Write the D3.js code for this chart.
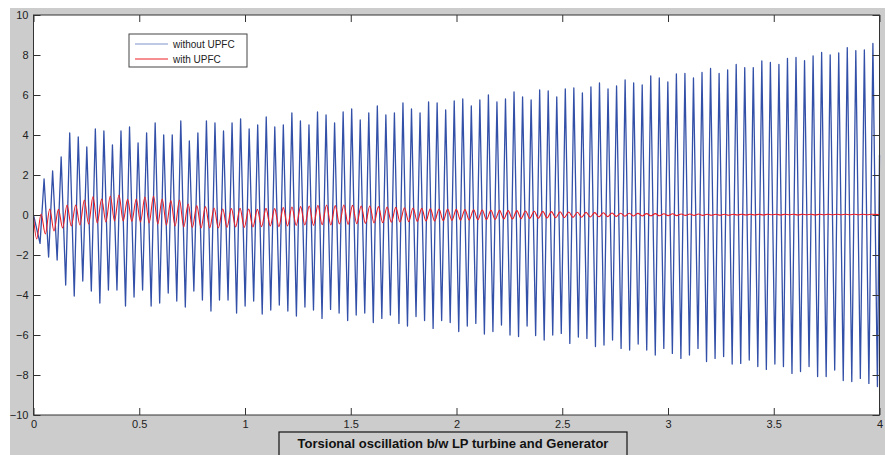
<!DOCTYPE html>
<html>
<head>
<meta charset="utf-8">
<script src="https://cdn.jsdelivr.net/npm/d3@7"></script>
<style>
  body { margin: 0; background: #fff; }
  text { font-family: "Liberation Sans", Arial, sans-serif; }
</style>
</head>
<body>
<div id="chart"></div>
<script>
// ---- data ----
var xTicks = [0, 0.5, 1, 1.5, 2, 2.5, 3, 3.5, 4];
var yTicks = [-10, -8, -6, -4, -2, 0, 2, 4, 6, 8, 10];
var seriesNames = ["without UPFC", "with UPFC"];

// blue (without UPFC): negative and positive peak of every cycle
var blueStart = 0.0;          // value at t = 0
var blueLowT0 = 0.031, blueHighT0 = 0.050, bluePeriod = 0.0404;
var blueLows = [-1.42, -2.1, -2.25, -3.5, -4.05, -3.3, -3.8, -4.4, -3.75, -3.75,
  -4.55, -4.1, -3.75, -4.55, -4.4, -3.9, -4.3, -4.6, -3.8, -4.25,
  -4.8, -4.25, -4.25, -4.9, -4.55, -4.3, -4.95, -4.75, -4.5, -4.8, -5.05,
  -4.6, -4.75, -5.17, -4.72, -4.9, -5.28, -5.0, -4.9, -5.38, -5.17,
  -5.0, -5.42, -5.55, -5.08, -5.28, -5.67, -5.28, -5.38, -5.83, -5.55,
  -5.42, -5.95, -5.83, -5.5, -6.0, -6.08, -5.55, -6.03, -6.25, -6.0,
  -5.92, -6.42, -6.1,
  -6.17, -6.58, -6.5, -6.25, -6.67, -6.75, -6.45, -6.75, -7.0, -6.67,
  -6.92, -7.17, -7.0, -6.67, -7.33, -7.17, -7.08, -7.45, -7.42, -7.25,
  -7.58, -7.72, -7.45, -7.58, -7.92, -7.83, -7.58, -8.08, -8.08, -7.75,
  -8.28, -8.33, -8.17, -8.42, -8.58];
var blueHighs = [1.8, 2.2, 2.9, 4.1, 3.9, 3.4, 4.3, 4.2, 3.5, 4.2,
  4.4, 3.6, 4.1, 4.6, 4.0, 4.0, 4.7, 3.7, 4.1, 4.7,
  4.6, 4.2, 4.6, 4.8, 4.3, 4.5, 4.9, 4.4, 4.5, 5.1, 4.7,
  4.5, 5.15, 5.0, 4.6, 5.15, 5.3, 4.75, 5.1, 5.45, 5.0,
  5.1, 5.6, 5.3, 5.1, 5.65, 5.6, 5.25, 5.7, 5.8, 5.45,
  5.75, 6.0, 5.65, 5.8, 6.15, 5.9, 5.75, 6.25, 6.2, 5.9, 6.3, 6.35,
  6.1, 6.4, 6.6, 6.3, 6.45, 6.75, 6.6, 6.5, 6.95, 6.85,
  6.65, 7.05, 7.08, 6.85, 7.13, 7.33, 7.08, 7.25, 7.53, 7.37,
  7.37, 7.7, 7.63, 7.53, 7.83, 7.88, 7.72, 7.95, 8.13, 8.0,
  8.1, 8.37, 8.22, 8.25, 8.58];
var blueEnd = 3.0;            // value at t = 4

// red (with UPFC)
var redStart = -0.1;
var redLowT0 = 0.015, redHighT0 = 0.036, redPeriod = 0.0409;
var redLows = [-1.2, -0.95, -0.8, -0.65, -0.55, -0.5, -0.45, -0.4, -0.35, -0.3,
  -0.3, -0.32, -0.35, -0.4, -0.45, -0.5, -0.55, -0.6, -0.62, -0.65,
  -0.65, -0.65, -0.62, -0.6, -0.62, -0.6, -0.58, -0.55, -0.58, -0.55,
  -0.52, -0.5, -0.52, -0.48, -0.5, -0.45, -0.47, -0.43, -0.42, -0.4,
  -0.38, -0.36, -0.35, -0.33, -0.32, -0.3, -0.3, -0.28, -0.27, -0.26,
  -0.25, -0.24, -0.23, -0.22, -0.2, -0.2, -0.18, -0.17, -0.16, -0.15,
  -0.14, -0.13, -0.12, -0.11, -0.1, -0.09, -0.08, -0.07, -0.06, -0.05,
  -0.05, -0.04, -0.04, -0.03, -0.03, -0.02, -0.02, -0.02, -0.01, -0.01,
  -0.01, 0, 0, 0, 0, 0.01, 0, 0.01, 0, 0.01,
  0, 0.01, 0.01, 0.01, 0.01, 0.01, 0.01];
var redHighs = [0.05, 0.3, 0.28, 0.5, 0.5, 0.75, 0.92, 0.8, 0.95, 1.0,
  0.78, 0.8, 0.9, 0.95, 0.8, 0.72, 0.75, 0.55, 0.47, 0.42,
  0.35, 0.3, 0.32, 0.33, 0.3, 0.28, 0.33, 0.32, 0.37, 0.4,
  0.42, 0.45, 0.48, 0.5, 0.47, 0.5, 0.48, 0.45, 0.45, 0.42,
  0.4, 0.38, 0.36, 0.35, 0.33, 0.32, 0.3, 0.3, 0.28, 0.27,
  0.26, 0.25, 0.24, 0.23, 0.22, 0.22, 0.2, 0.19, 0.18, 0.17,
  0.16, 0.15, 0.14, 0.13, 0.12, 0.11, 0.1, 0.09, 0.09, 0.08,
  0.07, 0.07, 0.06, 0.06, 0.05, 0.05, 0.05, 0.04, 0.04, 0.04,
  0.04, 0.04, 0.04, 0.04, 0.04, 0.04, 0.04, 0.04, 0.04, 0.04,
  0.04, 0.04, 0.04, 0.04, 0.04, 0.04, 0.04];
var redEnd = 0.02;

var title = "Torsional oscillation b/w LP turbine and Generator";

// put peaks in time order
function peaksToPoints(start, lows, lowT0, highs, highT0, period, end) {
  var pts = [{t: 0, v: start}];
  for (var i = 0; i < lows.length; i++) {
    pts.push({t: lowT0 + i * period, v: lows[i]});
    if (i < highs.length) pts.push({t: highT0 + i * period, v: highs[i]});
  }
  pts.push({t: 4, v: end});
  return pts;
}
var bluePts = peaksToPoints(blueStart, blueLows, blueLowT0, blueHighs, blueHighT0, bluePeriod, blueEnd);
var redPts = peaksToPoints(redStart, redLows, redLowT0, redHighs, redHighT0, redPeriod, redEnd);

// ---- drawing ----
var W = 885, H = 455;
var plotL = 33.5, plotR = 879.5, plotT = 15, plotB = 415;

var svg = d3.select("#chart").append("svg")
  .attr("width", W)
  .attr("height", H);

svg.append("rect")
  .attr("x", 10).attr("y", 8)
  .attr("width", W - 10).attr("height", H - 8)
  .attr("fill", "#cccccc");

var x = d3.scaleLinear().domain([0, 4]).range([plotL, plotR]);
var y = d3.scaleLinear().domain([-10, 10]).range([plotB, plotT]);

svg.append("rect")
  .attr("x", plotL).attr("y", plotT)
  .attr("width", plotR - plotL).attr("height", plotB - plotT)
  .attr("fill", "#ffffff");

var line = d3.line().x(function(d) { return x(d.t); }).y(function(d) { return y(d.v); });

var plot = svg.append("g");
plot.append("path")
  .datum(bluePts)
  .attr("d", line)
  .attr("fill", "none")
  .attr("stroke", "#3350a8")
  .attr("stroke-width", 1.3)
  .attr("stroke-linejoin", "round");

plot.append("path")
  .datum(redPts)
  .attr("d", d3.line().curve(d3.curveMonotoneX).x(function(d) { return x(d.t); }).y(function(d) { return y(d.v); }))
  .attr("fill", "none")
  .attr("stroke", "#ec1c24")
  .attr("stroke-width", 1.1);

// axes, MATLAB style ticks pointing inward
function styleAxis(g) {
  g.select(".domain").remove();
  g.selectAll("line").attr("stroke", "#333");
  g.selectAll("text").attr("font-size", 11).attr("fill", "#222")
    .style("font-family", "'Liberation Sans', Arial, sans-serif");
}

svg.append("g")
  .attr("transform", "translate(0," + plotB + ")")
  .call(d3.axisBottom(x).tickValues(xTicks).tickFormat(d3.format("")).tickSizeInner(-7).tickSizeOuter(0).tickPadding(5))
  .call(styleAxis);

svg.append("g")
  .attr("transform", "translate(0," + plotT + ")")
  .call(d3.axisTop(x).tickValues(xTicks).tickFormat("").tickSizeInner(-7).tickSizeOuter(0))
  .call(styleAxis);

svg.append("g")
  .attr("transform", "translate(" + plotL + ",0)")
  .call(d3.axisLeft(y).tickValues(yTicks).tickFormat(d3.format("")).tickSizeInner(-7).tickSizeOuter(0).tickPadding(5))
  .call(styleAxis);

svg.append("g")
  .attr("transform", "translate(" + plotR + ",0)")
  .call(d3.axisRight(y).tickValues(yTicks).tickFormat("").tickSizeInner(-7).tickSizeOuter(0))
  .call(styleAxis);

svg.append("rect")
  .attr("x", plotL).attr("y", plotT)
  .attr("width", plotR - plotL).attr("height", plotB - plotT)
  .attr("fill", "none")
  .attr("stroke", "#333")
  .attr("stroke-width", 1);

// legend
var legend = svg.append("g").attr("transform", "translate(129,34)");
legend.append("rect")
  .attr("width", 118).attr("height", 33)
  .attr("fill", "#fff").attr("stroke", "#444").attr("stroke-width", 1);
var colors = ["#7f93cc", "#ec1c24"];
seriesNames.forEach(function(name, i) {
  legend.append("line")
    .attr("x1", 6).attr("x2", 39)
    .attr("y1", 10 + i * 15).attr("y2", 10 + i * 15)
    .attr("stroke", colors[i]).attr("stroke-width", 1);
  legend.append("text")
    .attr("x", 44).attr("y", 14 + i * 15)
    .attr("font-size", 10).attr("fill", "#222")
    .text(name);
});

// title box at the bottom
var tb = svg.append("g").attr("transform", "translate(279,432)");
tb.append("rect")
  .attr("width", 348).attr("height", 26)
  .attr("fill", "#cccccc").attr("stroke", "#111").attr("stroke-width", 1.2);
tb.append("text")
  .attr("x", 174).attr("y", 16)
  .attr("text-anchor", "middle")
  .attr("font-size", 13).attr("font-weight", "bold").attr("fill", "#111")
  .text(title);
</script>
</body>
</html>
